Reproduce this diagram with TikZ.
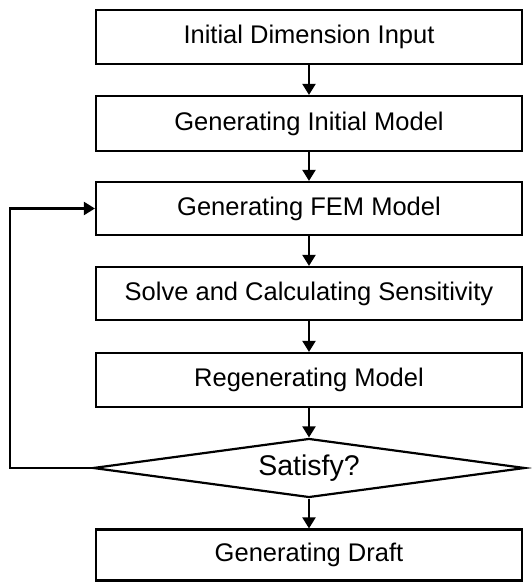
\documentclass[tikz,border=0pt]{standalone}
\usepackage{fontspec}
\setmainfont{Liberation Sans}
\usetikzlibrary{arrows.meta, shapes.geometric}

\begin{document}
\begin{tikzpicture}[x=1pt, y=1pt,
    stagebox/.style={draw, line width=2.2pt, minimum width=426pt, inner sep=0pt, font=\fontsize{25.5}{29}\selectfont},
    flow/.style={line width=2.2pt, -{Triangle[length=11pt, width=13pt]}}]
    \useasboundingbox (0,0) rectangle (532,582);
    \node[stagebox, minimum height=54pt] (dim) at (309,545) {Initial Dimension Input};
    \node[stagebox, minimum height=55pt] (init) at (309,458.5) {Generating Initial Model};
    \node[stagebox, minimum height=53pt] (fem) at (309,373.5) {Generating FEM Model};
    \node[stagebox, minimum height=53pt] (solve) at (309,288.5) {Solve and Calculating Sensitivity};
    \node[stagebox, minimum height=54pt] (regen) at (309,202) {Regenerating Model};
    \node[draw, diamond, aspect=7.3, line width=2.2pt, inner sep=0pt,
          minimum width=432pt, minimum height=59pt,
          font=\fontsize{28.5}{32}\selectfont] (check) at (309,114) {Satisfy?};
    \node[stagebox, minimum height=51pt] (draft) at (309,27) {Generating Draft};
    % main flow
    \draw[flow] (dim) -- (init);
    \draw[flow] (init) -- (fem);
    \draw[flow] (fem) -- (solve);
    \draw[flow] (solve) -- (regen);
    \draw[flow] (regen) -- (check);
    \draw[flow] (check) -- (draft);
    % loop back
    \coordinate (turn) at (10,114);
    \draw[flow] (check.west) -- (turn) |- (fem.west);
\end{tikzpicture}
\end{document}
